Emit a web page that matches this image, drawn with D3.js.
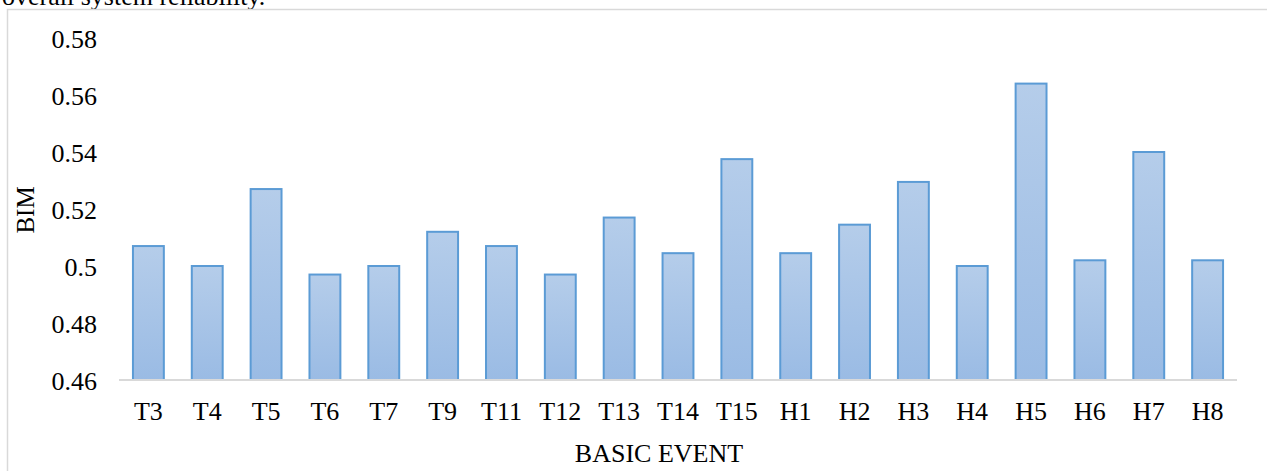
<!DOCTYPE html>
<html>
<head>
<meta charset="utf-8">
<script src="https://cdn.jsdelivr.net/npm/d3@7"></script>
<style>
  html, body { margin: 0; padding: 0; background: #fff; }
  svg { display: block; }
  svg text { font-family: "Liberation Serif", "Times New Roman", serif !important; fill: #000; }
</style>
</head>
<body>
<svg id="chart" width="1267" height="471"></svg>
<script>
// Birnbaum importance measure per basic event
const categories = ["T3","T4","T5","T6","T7","T9","T11","T12","T13","T14","T15","H1","H2","H3","H4","H5","H6","H7","H8"];
const bimValues  = [0.507,0.500,0.527,0.497,0.500,0.512,0.507,0.497,0.517,0.5045,0.5375,0.5045,0.5145,0.5295,0.500,0.564,0.502,0.540,0.502];
const yTicks     = [0.46,0.48,0.50,0.52,0.54,0.56,0.58];
const yTickLabels = ["0.46","0.48","0.5","0.52","0.54","0.56","0.58"];
const xTitle = "BASIC EVENT";
const yTitle = "BIM";
const captionLine = "overall system reliability.";

const serif = '"Liberation Serif", "Times New Roman", serif';
const svg = d3.select("#chart");

// preceding paragraph line, clipped at the top edge
svg.append("text")
  .attr("x", 2).attr("y", 5)
  .style("font-family", serif)
  .attr("font-size", 26)
  .text(captionLine);

// chart frame (left and top edges visible)
svg.append("path")
  .attr("d", "M7.5,471 V9.5 H1267")
  .attr("fill", "none")
  .attr("stroke", "#d9d9d9")
  .attr("stroke-width", 1.5);

const x = d3.scaleBand().domain(categories).range([119, 1237]).paddingInner(0.475).paddingOuter(0.237);
const y = d3.scaleLinear().domain([0.46, 0.58]).range([380, 38]);

const defs = svg.append("defs");
const grad = defs.append("linearGradient")
  .attr("id", "barFill").attr("x1", 0).attr("y1", 0).attr("x2", 0).attr("y2", 1);
grad.append("stop").attr("offset", "0%").attr("stop-color", "#b5cdea");
grad.append("stop").attr("offset", "100%").attr("stop-color", "#9abbe4");

// y tick labels
const yAxis = d3.axisLeft(y).tickValues(yTicks)
  .tickFormat((d, i) => yTickLabels[i]).tickSize(0).tickPadding(0);
const gy = svg.append("g").attr("transform", "translate(97,0)").call(yAxis)
  .attr("font-family", serif);
gy.select(".domain").remove();
gy.selectAll("text")
  .attr("font-size", 26)
  .style("font-family", serif)
  .attr("fill", "#000")
  .attr("dy", "0.35em");

// bars
svg.append("g").selectAll("rect")
  .data(categories)
  .join("rect")
  .attr("x", d => x(d))
  .attr("width", x.bandwidth())
  .attr("y", (d, i) => y(bimValues[i]))
  .attr("height", (d, i) => y(0.46) - y(bimValues[i]))
  .attr("fill", "url(#barFill)")
  .attr("stroke", "#5b9bd5")
  .attr("stroke-width", 2);

// x axis
const xAxis = d3.axisBottom(x).tickSize(0).tickPadding(0);
const gx = svg.append("g").attr("transform", "translate(0,380)").call(xAxis)
  .attr("font-family", serif);
gx.select(".domain")
  .attr("stroke", "#d9d9d9")
  .attr("stroke-width", 2)
  .attr("d", "M119,0H1237");
gx.selectAll("text")
  .attr("font-size", 26)
  .style("font-family", serif)
  .attr("fill", "#000")
  .attr("dy", null)
  .attr("y", 40);

// axis titles
svg.append("text")
  .attr("x", 659).attr("y", 462)
  .attr("text-anchor", "middle")
  .style("font-family", serif)
  .attr("font-size", 26)
  .text(xTitle);

svg.append("text")
  .attr("transform", "translate(34,210) rotate(-90)")
  .attr("text-anchor", "middle")
  .style("font-family", serif)
  .attr("font-size", 25)
  .text(yTitle);
</script>
</body>
</html>
